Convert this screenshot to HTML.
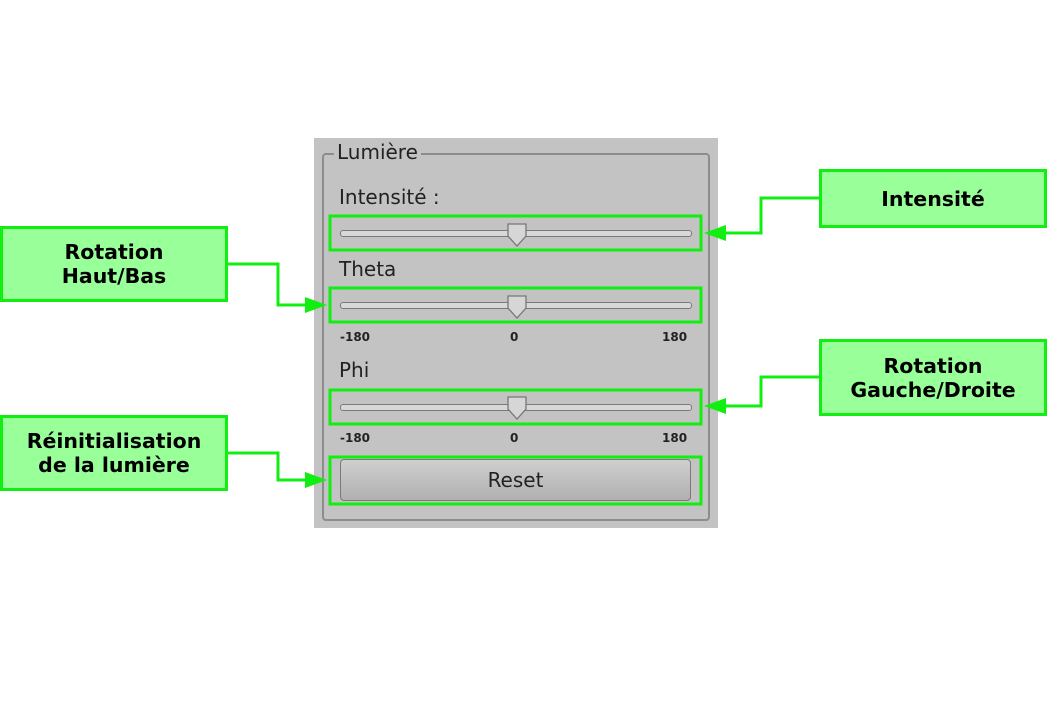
<!DOCTYPE html>
<html><head><meta charset="utf-8"><style>
body{margin:0;width:1047px;height:718px;background:#fff;position:relative;overflow:hidden;font-family:"DejaVu Sans","Liberation Sans",sans-serif}
.a{position:absolute}
.panel{left:314px;top:138px;width:404px;height:390px;background:#c3c3c3}
.grp{left:322px;top:153px;border:2px solid #8c8c8c;border-radius:4px;box-sizing:border-box;width:388px;height:368px}
.lbl{font-size:20px;color:#222}
.sm{font-size:12px;font-weight:bold;color:#222}
.track{height:5px;border:1px solid #7a7a7a;border-radius:3px;background:#d8d8d8;left:340px;width:350px}
.call{background:#99ff99;border:3px solid #11ee11;box-sizing:border-box;display:flex;align-items:center;justify-content:center;text-align:center;font-weight:bold;font-size:20.5px;color:#000;line-height:24px}
.btn{left:340px;top:459px;width:351px;height:42px;box-sizing:border-box;border:1px solid #7a7a7a;border-radius:4px;background:linear-gradient(#cfcfcf,#b0b0b0);display:flex;align-items:center;justify-content:center;font-size:20px;color:#222}
</style></head><body>
<div class="a panel"></div>
<div class="a grp"></div>
<div class="a lbl" style="left:334px;top:140px;background:#c3c3c3;padding:0 3px">Lumière</div>
<div class="a lbl" style="left:339px;top:185px">Intensité :</div>
<div class="a lbl" style="left:339px;top:257px">Theta</div>
<div class="a lbl" style="left:339px;top:358px">Phi</div>
<div class="a track" style="top:230px"></div>
<div class="a track" style="top:302px"></div>
<div class="a track" style="top:404px"></div>
<div class="a sm" style="left:340px;top:330px">-180</div><div class="a sm" style="left:510px;top:330px">0</div><div class="a sm" style="left:662px;top:330px">180</div>
<div class="a sm" style="left:340px;top:431px">-180</div><div class="a sm" style="left:510px;top:431px">0</div><div class="a sm" style="left:662px;top:431px">180</div>
<div class="a btn">Reset</div>
<svg class="a" style="left:0;top:0" width="1047" height="718">
<g fill="#d6d6d6" stroke="#777" stroke-width="1.3">
<path d="M508 224 h18 v12 l-9 10 l-9 -10z"/>
<path d="M508 296 h18 v12 l-9 10 l-9 -10z"/>
<path d="M508 397 h18 v12 l-9 10 l-9 -10z"/>
</g>
<g fill="none" stroke="#11ee11" stroke-width="3">
<rect x="330" y="216" width="371" height="34"/>
<rect x="330" y="288" width="371" height="34"/>
<rect x="330" y="390" width="371" height="34"/>
<rect x="330" y="457" width="371" height="47"/>
<polyline points="820,198 761,198 761,233 722,233"/>
<polyline points="820,377 761,377 761,406 722,406"/>
<polyline points="227,264 278,264 278,305 310,305"/>
<polyline points="227,453 278,453 278,480 310,480"/>
</g>
<g fill="#11ee11">
<polygon points="704,233 726,225 726,241"/>
<polygon points="704,406 726,398 726,414"/>
<polygon points="327,305 305,297 305,313"/>
<polygon points="327,480 305,472 305,488"/>
</g>
</svg>
<div class="a call" style="left:0;top:226px;width:228px;height:76px">Rotation<br>Haut/Bas</div>
<div class="a call" style="left:0;top:415px;width:228px;height:76px">Réinitialisation<br>de la lumière</div>
<div class="a call" style="left:819px;top:169px;width:228px;height:59px">Intensité</div>
<div class="a call" style="left:819px;top:339px;width:228px;height:77px">Rotation<br>Gauche/Droite</div>
</body></html>
